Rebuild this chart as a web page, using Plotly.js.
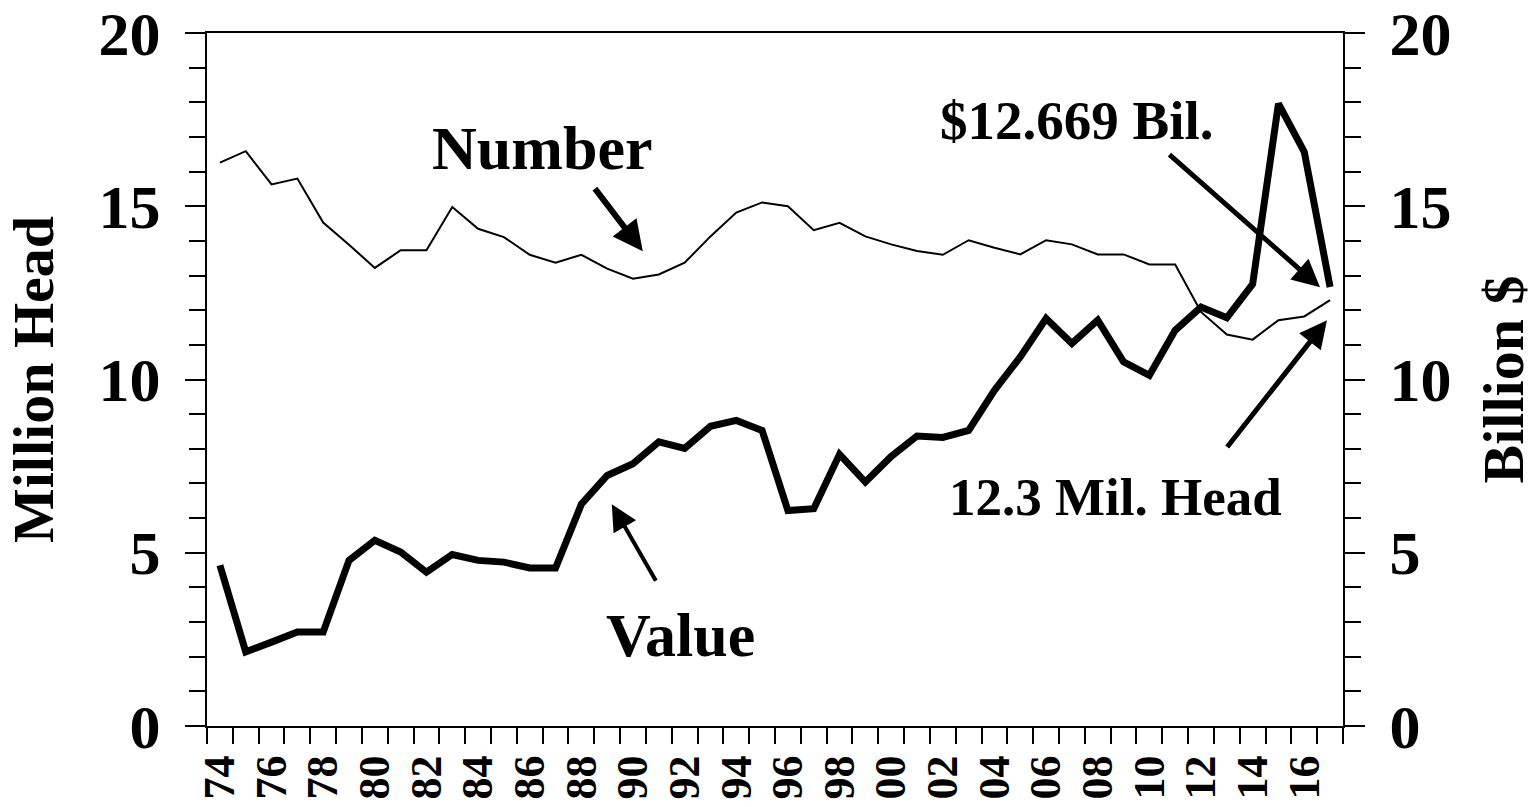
<!DOCTYPE html>
<html>
<head>
<meta charset="utf-8">
<script src="https://cdn.plot.ly/plotly-3.0.1.min.js"></script>
<style>html,body{margin:0;padding:0;background:#fff;}#chart{width:1539px;height:807px;}</style>
</head>
<body>
<div id="chart"></div>
<script>
const years = [1974,1975,1976,1977,1978,1979,1980,1981,1982,1983,1984,1985,1986,1987,1988,1989,1990,1991,1992,1993,1994,1995,1996,1997,1998,1999,2000,2001,2002,2003,2004,2005,2006,2007,2008,2009,2010,2011,2012,2013,2014,2015,2016,2017];
const numberMilHead = [16.26,16.59,15.63,15.80,14.53,13.89,13.22,13.73,13.73,14.98,14.35,14.11,13.60,13.37,13.60,13.20,12.91,13.03,13.37,14.13,14.82,15.11,15.00,14.31,14.52,14.13,13.90,13.71,13.60,14.02,13.80,13.61,14.02,13.90,13.61,13.61,13.32,13.32,11.95,11.30,11.15,11.71,11.82,12.29];
const valueBilDollars = [4.64,2.14,2.42,2.71,2.71,4.78,5.36,5.02,4.44,4.95,4.78,4.73,4.56,4.56,6.40,7.23,7.57,8.20,8.01,8.65,8.82,8.53,6.22,6.27,7.84,7.04,7.78,8.37,8.33,8.53,9.69,10.65,11.76,11.04,11.71,10.51,10.12,11.42,12.09,11.78,12.75,17.96,16.57,12.67];
const xTickVals = [1974,1976,1978,1980,1982,1984,1986,1988,1990,1992,1994,1996,1998,2000,2002,2004,2006,2008,2010,2012,2014,2016];
const xTickText = ['74','76','78','80','82','84','86','88','90','92','94','96','98','00','02','04','06','08','10','12','14','16'];
const yTickVals = [0,5,10,15,20];
const yTickText = ['0','5','10','15','20'];

const FONT = 'Liberation Serif, Times New Roman, serif';
const minorX = [];
for (let i = 0; i <= 44; i++) minorX.push(1973.5 + i);

const traces = [
  {x: years, y: numberMilHead, type: 'scatter', mode: 'lines', name: 'Number',
   line: {color: '#000', width: 2}, yaxis: 'y'},
  {x: years, y: valueBilDollars, type: 'scatter', mode: 'lines', name: 'Value',
   line: {color: '#000', width: 7}, yaxis: 'y2'}
];

const yCommon = {
  range: [0, 20], tickmode: 'array', tickvals: yTickVals, ticktext: yTickText,
  ticks: 'outside', ticklen: 20, tickwidth: 2, tickcolor: '#000', ticklabelstandoff: 12,
  ticklabeloverflow: 'allow',
  minor: {tickmode: 'linear', tick0: 0, dtick: 1, ticks: 'outside', ticklen: 16, tickwidth: 2, tickcolor: '#000'},
  showline: true, linewidth: 2, linecolor: '#000', showgrid: false, zeroline: false,
  tickfont: {family: FONT, size: 62, color: '#000', weight: 'bold'},
  fixedrange: true
};

const annFont = (s) => ({family: FONT, size: s, color: '#000', weight: 'bold'});

const layout = {
  width: 1539, height: 807,
  margin: {l: 207, r: 196, t: 33, b: 81},
  paper_bgcolor: '#fff', plot_bgcolor: '#fff',
  showlegend: false,
  xaxis: {
    range: [1973.5, 2017.5], tickmode: 'array', tickvals: xTickVals, ticktext: xTickText,
    ticks: '', tickangle: -90, ticklabelstandoff: 10, ticklabeloverflow: 'allow',
    minor: {tickmode: 'array', tickvals: minorX, ticks: 'outside', ticklen: 16, tickwidth: 2, tickcolor: '#000'},
    showline: true, mirror: true, linewidth: 2, linecolor: '#000', showgrid: false, zeroline: false,
    tickfont: {family: FONT, size: 44, color: '#000', weight: 'bold'}
  },
  yaxis: Object.assign({}, yCommon, {
    title: {text: 'Million Head', font: annFont(58), standoff: 26}
  }),
  yaxis2: Object.assign({}, yCommon, {
    overlaying: 'y', side: 'right',
    title: {text: 'Billion $', font: annFont(58), standoff: 32}
  }),
  annotations: [
    {x: 1986.47, y: 16.67, xref: 'x', yref: 'y', text: 'Number', showarrow: false, font: annFont(62)},
    {x: 1991.85, y: 2.62, xref: 'x', yref: 'y', text: 'Value', showarrow: false, font: annFont(62)},
    {x: 2007.2, y: 17.48, xref: 'x', yref: 'y', text: '$12.669 Bil.', showarrow: false, font: annFont(55)},
    {x: 2008.67, y: 6.60, xref: 'x', yref: 'y', text: '12.3 Mil. Head', showarrow: false, font: annFont(53)},
    {x: 1990.38, y: 13.70, ax: 1988.48, ay: 15.55, xref: 'x', yref: 'y', axref: 'x', ayref: 'y',
     text: '', showarrow: true, arrowhead: 2, arrowsize: 1, arrowwidth: 6, arrowcolor: '#000'},
    {x: 1989.18, y: 6.40, ax: 1990.92, ay: 4.15, xref: 'x', yref: 'y', axref: 'x', ayref: 'y',
     text: '', showarrow: true, arrowhead: 2, arrowsize: 1.3, arrowwidth: 4, arrowcolor: '#000'},
    {x: 2016.61, y: 12.66, ax: 2010.72, ay: 16.53, xref: 'x', yref: 'y', axref: 'x', ayref: 'y',
     text: '', showarrow: true, arrowhead: 2, arrowsize: 1.1, arrowwidth: 5, arrowcolor: '#000'},
    {x: 2016.88, y: 11.71, ax: 2012.97, ay: 8.01, xref: 'x', yref: 'y', axref: 'x', ayref: 'y',
     text: '', showarrow: true, arrowhead: 2, arrowsize: 1.1, arrowwidth: 5, arrowcolor: '#000'}
  ]
};

Plotly.newPlot('chart', traces, layout, {staticPlot: true, displayModeBar: false});
</script>
</body>
</html>
